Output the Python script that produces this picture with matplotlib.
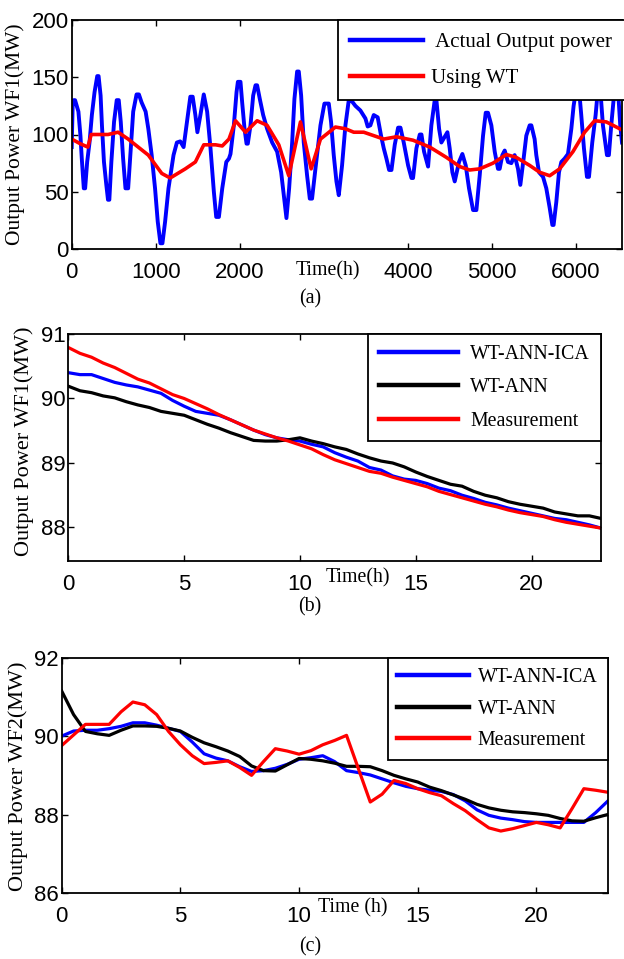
import matplotlib
matplotlib.use("Agg")
import matplotlib.pyplot as plt
import numpy as np

plt.rcParams["font.family"] = ["Liberation Sans", "DejaVu Sans"]
SERIF = ["Liberation Serif", "DejaVu Serif"]

# ---- (a) WF1 output power, actual vs wavelet approximation ----
t_actual = [0, 12, 24, 40, 80, 104, 120, 144, 160, 184, 212, 240, 272, 304, 320, 344,
            360, 384, 412, 432, 448, 472, 504, 536, 560, 584, 612, 640, 672, 704, 732,
            772, 800, 832, 880, 912, 952, 992, 1024, 1056, 1080, 1112, 1152, 1212,
            1252, 1292, 1332, 1372, 1412, 1440, 1472, 1496, 1532, 1572, 1612, 1652,
            1692, 1720, 1752, 1792, 1840, 1872, 1890, 1930, 1962, 1978, 2009, 2029,
            2057, 2081, 2096, 2128, 2160, 2188, 2207, 2239, 2279, 2326, 2386, 2445,
            2493, 2525, 2556, 2588, 2624, 2651, 2683, 2703, 2731, 2762, 2802, 2834,
            2861, 2901, 2961, 3008, 3060, 3087, 3119, 3151, 3179, 3218, 3258, 3298,
            3325, 3377, 3436, 3496, 3523, 3555, 3595, 3642, 3682, 3714, 3746, 3778,
            3806, 3845, 3885, 3913, 3952, 4004, 4044, 4063, 4103, 4143, 4163, 4194,
            4242, 4281, 4321, 4341, 4373, 4400, 4440, 4472, 4499, 4531, 4559, 4610,
            4650, 4690, 4729, 4777, 4817, 4856, 4896, 4928, 4955, 4995, 5035, 5074,
            5094, 5126, 5154, 5193, 5233, 5272, 5312, 5340, 5379, 5411, 5451, 5471,
            5510, 5530, 5562, 5610, 5649, 5689, 5721, 5736, 5768, 5800, 5828, 5867,
            5907, 5947, 5974, 6006, 6038, 6065, 6097, 6133, 6157, 6196, 6236, 6264,
            6291, 6323, 6371, 6394, 6422, 6462, 6502, 6529, 6550]
p_actual = [89, 127, 130, 130, 120, 99, 79, 53, 53, 76, 93, 117, 137, 151, 151, 134,
            108, 76, 56, 43, 43, 76, 111, 130, 130, 111, 79, 53, 53, 88, 120,
            135, 135, 128, 120, 105, 82, 53, 24, 5, 5, 24, 53, 82,
            93, 94, 89, 111, 133, 133, 117, 102, 117, 135, 120, 88,
            50, 28, 28, 53, 76, 79, 83, 108, 137, 146, 146, 128,
            105, 92, 92, 108, 134, 143, 143, 131, 117, 105, 93, 85,
            67, 47, 27, 53, 93, 131, 155, 155, 134, 93, 64, 44,
            44, 70, 108, 127, 127, 111, 82, 59, 47, 73, 108, 130,
            130, 125, 121, 114, 107, 108, 117, 115, 99, 88, 79, 69,
            69, 91, 106, 106, 93, 73, 62, 62, 88, 100, 100, 85,
            72, 108, 130, 130, 105, 93, 98, 102, 88, 67, 59, 76,
            83, 73, 53, 34, 34, 64, 99, 119, 119, 108, 85, 70,
            70, 82, 86, 76, 75, 82, 70, 56, 79, 99, 108, 108,
            96, 82, 67, 63, 53, 36, 21, 21, 41, 67, 76, 79,
            83, 105, 125, 140, 140, 117, 88, 63, 63, 93, 117, 140,
            140, 108, 82, 82, 108, 140, 140, 108, 93]

t_wt = [0, 100, 192, 232, 432, 552, 672, 912, 1072, 1172, 1352, 1472, 1572, 1712,
        1792, 1872, 1950, 2069, 2207, 2326, 2465, 2584, 2723, 2850, 2961, 3139,
        3258, 3357, 3476, 3714, 3865, 4063, 4262, 4460, 4618, 4737, 4856, 5015,
        5173, 5292, 5451, 5570, 5689, 5808, 5966, 6105, 6224, 6363, 6550]
p_wt = [96, 92, 89, 100, 100, 102, 96, 82, 66, 62, 70, 76, 91, 91,
        90, 96, 112, 102, 112, 108, 91, 64, 111, 70, 96, 106.5,
        105, 102, 102, 96, 98, 95, 89, 80, 72, 69, 70, 75,
        82.5, 80, 73, 67, 64, 70, 85, 102, 112, 111, 104]

# ---- (b), (c) 24 h forecasts (half-hour samples) ----
hours = np.arange(0, 23.5, 0.5)

b_ica = [90.40, 90.37, 90.37, 90.31, 90.25, 90.21, 90.18, 90.13, 90.08, 89.97, 89.88,
         89.80, 89.77, 89.74, 89.67, 89.59, 89.51, 89.44, 89.39, 89.36, 89.34, 89.29,
         89.25, 89.16, 89.09, 89.03, 88.93, 88.89, 88.80, 88.75, 88.73, 88.68, 88.61,
         88.57, 88.50, 88.45, 88.39, 88.35, 88.30, 88.26, 88.22, 88.18, 88.14, 88.12,
         88.08, 88.04, 87.99]
b_ann = [90.19, 90.12, 90.09, 90.04, 90.01, 89.95, 89.90, 89.86, 89.80, 89.77, 89.74,
         89.67, 89.60, 89.54, 89.47, 89.41, 89.35, 89.34, 89.34, 89.36, 89.39, 89.34,
         89.30, 89.25, 89.21, 89.14, 89.08, 89.03, 89.00, 88.94, 88.86, 88.79, 88.73,
         88.67, 88.64, 88.56, 88.50, 88.46, 88.40, 88.36, 88.33, 88.30, 88.24, 88.21,
         88.18, 88.18, 88.14]
b_meas = [90.79, 90.70, 90.64, 90.55, 90.48, 90.39, 90.30, 90.24, 90.15, 90.06, 90.00,
          89.92, 89.84, 89.75, 89.67, 89.59, 89.51, 89.45, 89.39, 89.34, 89.28, 89.22,
          89.13, 89.05, 88.99, 88.93, 88.87, 88.84, 88.78, 88.73, 88.68, 88.63, 88.56,
          88.51, 88.46, 88.41, 88.36, 88.32, 88.27, 88.23, 88.20, 88.17, 88.12, 88.08,
          88.05, 88.02, 87.99]

c_ica = [90.00, 90.13, 90.15, 90.15, 90.19, 90.25, 90.34, 90.34, 90.28, 90.20, 90.12,
         89.85, 89.55, 89.44, 89.37, 89.22, 89.10, 89.12, 89.18, 89.28, 89.41, 89.45,
         89.50, 89.35, 89.12, 89.07, 89.01, 88.91, 88.81, 88.72, 88.66, 88.62, 88.59,
         88.51, 88.35, 88.12, 87.98, 87.91, 87.87, 87.82, 87.80, 87.80, 87.80, 87.80,
         87.80, 88.05, 88.34]
c_ann = [91.15, 90.55, 90.12, 90.06, 90.02, 90.15, 90.26, 90.26, 90.25, 90.20, 90.13,
         89.97, 89.83, 89.73, 89.62, 89.48, 89.24, 89.12, 89.11, 89.27, 89.43, 89.41,
         89.37, 89.31, 89.23, 89.23, 89.22, 89.12, 89.00, 88.91, 88.83, 88.70, 88.61,
         88.50, 88.39, 88.26, 88.17, 88.11, 88.07, 88.05, 88.02, 87.98, 87.90, 87.84,
         87.83, 87.92, 88.00]
c_meas = [89.76, 90.03, 90.30, 90.30, 90.30, 90.62, 90.87, 90.80, 90.55, 90.12, 89.78,
          89.50, 89.30, 89.33, 89.37, 89.20, 89.00, 89.35, 89.68, 89.62, 89.54, 89.63,
          89.78, 89.89, 90.02, 89.17, 88.32, 88.52, 88.87, 88.79, 88.66, 88.56, 88.48,
          88.28, 88.10, 87.87, 87.66, 87.58, 87.64, 87.72, 87.80, 87.74, 87.66, 88.15,
          88.66, 88.62, 88.57]

W, H = 624, 959
fig = plt.figure(figsize=(W / 100, H / 100), dpi=100)


def px_axes(left, top, right, bottom):
    return fig.add_axes([left / W, 1 - bottom / H, (right - left) / W, (bottom - top) / H])


def style(ax):
    for s in ax.spines.values():
        s.set_linewidth(1.3)
    ax.tick_params(direction="in", top=True, right=True, length=4, width=1,
                   labelsize=16)
    ax.tick_params(axis="x", pad=9)
    ax.tick_params(axis="y", pad=2)


def ftext(x, y, s, **kw):
    fig.text(x / W, 1 - y / H, s, ha="center", va="center", family=SERIF, **kw)


def boxed_legend(ax, **kw):
    leg = ax.legend(borderaxespad=0, fancybox=False, edgecolor="black", framealpha=1,
                    **kw)
    leg.get_frame().set_linewidth(1.3)
    for h in leg.get_lines():
        h.set_linewidth(3.2)
    return leg


# (a)
ax1 = px_axes(71.7, 20, 622, 249)
ax1.plot(t_actual, p_actual, color="#0000ff", lw=2.8, label=" Actual Output power")
ax1.plot(t_wt, p_wt, color="#ff0000", lw=2.6, label="Using WT")
ax1.set_xlim(0, 6550)
ax1.set_ylim(0, 200)
ax1.set_xticks([0, 1000, 2000, 4000, 5000, 6000])
ax1.set_yticks([0, 50, 100, 150, 200])
style(ax1)
boxed_legend(ax1, loc="upper left", bbox_to_anchor=(337.5 / W, 1 - 20 / H),
             bbox_transform=fig.transFigure, prop={"family": SERIF, "size": 15},
             handlelength=3.5, handletextpad=0.4, borderpad=0.6, labelspacing=0.78)
ftext(15, 134, "Output Power WF1(MW)", rotation=90, fontsize=15.5)
ftext(328, 271, "Time(h)", fontsize=14.3)
ftext(310, 299, "(a)", fontsize=14.3)

# (b)
ax2 = px_axes(68.4, 334, 601, 561)
ax2.plot(hours, b_ica, color="#0000ff", lw=2.3, label="WT-ANN-ICA")
ax2.plot(hours, b_ann, color="black", lw=2.3, label="WT-ANN")
ax2.plot(hours, b_meas, color="#ff0000", lw=2.3, label="Measurement")
ax2.set_xlim(0, 23)
ax2.set_ylim(87.48, 91)
ax2.set_xticks([0, 5, 10, 15, 20])
ax2.set_yticks([88, 89, 90, 91])
style(ax2)
boxed_legend(ax2, loc="upper right", prop={"family": SERIF, "size": 14.3},
             handlelength=4.0, handletextpad=0.6, borderpad=0.55, labelspacing=0.72)

# (c)
ax3 = px_axes(61.7, 657.7, 607.6, 893)
ax3.plot(hours, c_ica, color="#0000ff", lw=2.3, label="WT-ANN-ICA")
ax3.plot(hours, c_ann, color="black", lw=2.3, label="WT-ANN")
ax3.plot(hours, c_meas, color="#ff0000", lw=2.3, label="Measurement")
ax3.set_xlim(0, 23)
ax3.set_ylim(86, 92)
ax3.set_xticks([0, 5, 10, 15, 20])
ax3.set_yticks([86, 88, 90, 92])
style(ax3)
boxed_legend(ax3, loc="upper right", prop={"family": SERIF, "size": 14.3},
             handlelength=3.6, handletextpad=0.45, borderpad=0.5, labelspacing=0.65)

ftext(24, 441, "Output Power WF1(MW)", rotation=90, fontsize=16)
ftext(358, 578, "Time(h)", fontsize=14.3)
ftext(310, 607, "(b)", fontsize=14.3)

ftext(18, 776, "Output Power WF2(MW)", rotation=90, fontsize=16)
ftext(353, 908, "Time (h)", fontsize=14.3)
ftext(310, 947, "(c)", fontsize=14.3)

fig.savefig("out.png", dpi=100)
